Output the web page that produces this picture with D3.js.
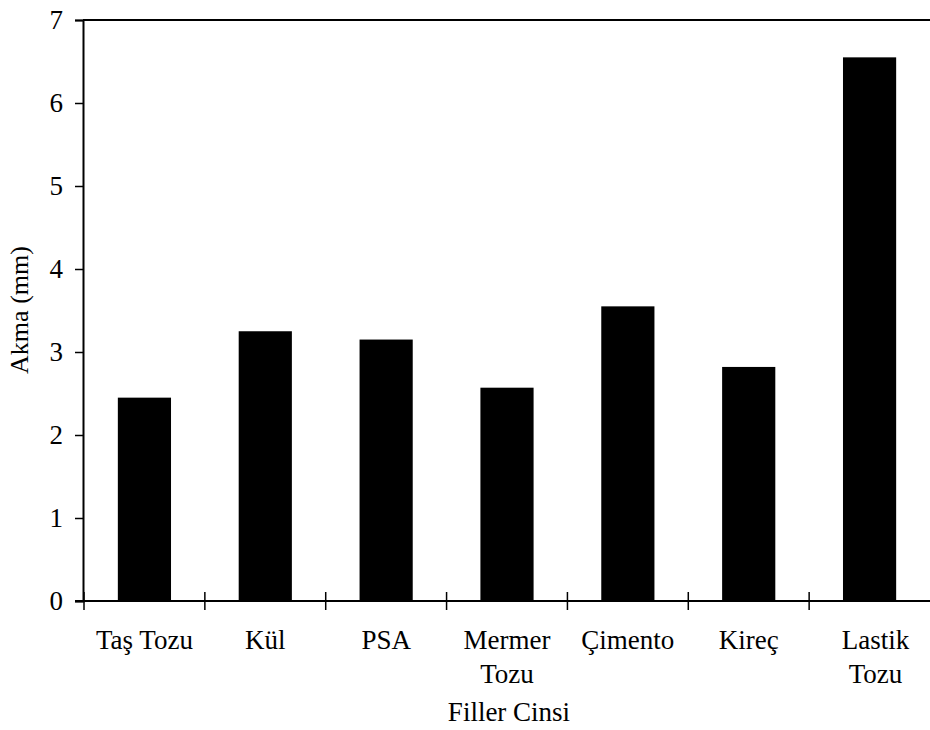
<!DOCTYPE html>
<html>
<head>
<meta charset="utf-8">
<script src="https://cdn.jsdelivr.net/npm/d3@7/dist/d3.min.js"></script>
<style>
  html, body { margin: 0; padding: 0; background: #fff; }
  svg { display: block; }
  text { font-family: "Liberation Serif", "Times New Roman", serif; fill: #000; }
</style>
</head>
<body>
<svg id="chart" width="930" height="730"></svg>
<script>
const categories = [["Taş Tozu"], ["Kül"], ["PSA"], ["Mermer", "Tozu"], ["Çimento"], ["Kireç"], ["Lastik", "Tozu"]];
const values = [2.45, 3.25, 3.15, 2.57, 3.55, 2.82, 6.55];
const yTicks = [0, 1, 2, 3, 4, 5, 6, 7];
const xTitle = "Filler Cinsi";
const yTitle = "Akma (mm)";

const svg = d3.select("#chart");
const mLeft = 84, mRight = 930, mTop = 20, mBottom = 601;

const x = d3.scaleBand().domain(d3.range(categories.length)).range([mLeft, mRight]).paddingInner(0.56).paddingOuter(0.28);
const xb = d3.scaleLinear().domain([0, categories.length]).range([mLeft, mRight]);
const y = d3.scaleLinear().domain([0, 7]).range([mBottom, mTop]);

// bars
svg.append("g").selectAll("rect").data(values).join("rect")
  .attr("x", (d, i) => x(i))
  .attr("width", x.bandwidth())
  .attr("y", d => y(d))
  .attr("height", d => y(0) - y(d))
  .attr("fill", "#000");

// y axis
const yAxis = svg.append("g").attr("transform", `translate(${mLeft - 1},0)`)
  .call(d3.axisLeft(y).tickValues(yTicks).tickSize(8).tickPadding(12).tickFormat(d3.format("d")));
yAxis.select(".domain").attr("stroke", "#000").attr("stroke-width", 2);
yAxis.selectAll(".tick line").attr("stroke", "#000").attr("stroke-width", 1.5);
yAxis.selectAll(".tick text").style("font-size", "27px").style("font-family", "Liberation Serif, serif");

// top border
svg.append("line").attr("x1", mLeft - 1).attr("x2", mRight).attr("y1", y(7)).attr("y2", y(7))
  .attr("stroke", "#000").attr("stroke-width", 2);

// x axis line
svg.append("line").attr("x1", mLeft - 9).attr("x2", mRight).attr("y1", y(0)).attr("y2", y(0))
  .attr("stroke", "#000").attr("stroke-width", 2);

// x ticks at band boundaries
svg.append("g").selectAll("line").data(d3.range(0, categories.length)).join("line")
  .attr("x1", d => xb(d)).attr("x2", d => xb(d))
  .attr("y1", y(0) - 9).attr("y2", y(0) + 9)
  .attr("stroke", "#000").attr("stroke-width", 1.5);

// category labels
const lab = svg.append("g").selectAll("text").data(categories).join("text")
  .attr("text-anchor", "middle")
  .style("font-size", "27px")
  .attr("x", (d, i) => x(i) + x.bandwidth() / 2 + (d.length > 1 && i === categories.length - 1 ? 6 : 0))
  .attr("y", 649);
lab.selectAll("tspan").data(d => d).join("tspan")
  .attr("x", function () { return d3.select(this.parentNode).attr("x"); })
  .attr("dy", (d, j) => j === 0 ? 0 : 34)
  .text(d => d);

// axis titles
svg.append("text").attr("x", (mLeft + mRight) / 2 + 2).attr("y", 721).attr("text-anchor", "middle")
  .style("font-size", "27px").text(xTitle);
svg.append("text").attr("transform", `translate(28,310) rotate(-90)`).attr("text-anchor", "middle")
  .style("font-size", "26px").text(yTitle);
</script>
</body>
</html>
